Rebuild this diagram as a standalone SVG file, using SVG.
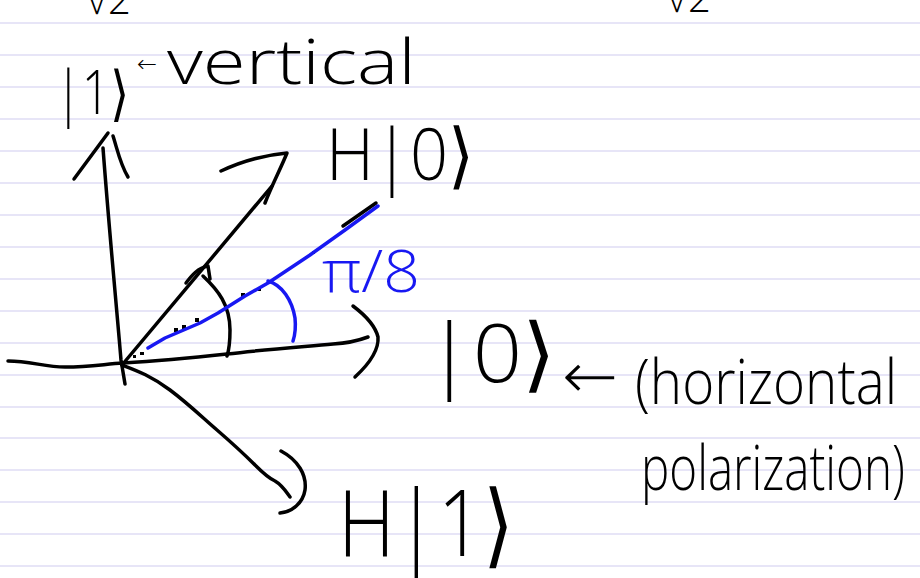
<svg xmlns="http://www.w3.org/2000/svg" width="920" height="578" viewBox="0 0 920 578">
<style>
.rule{stroke:#e7e5f7;stroke-width:2}
.ink{fill:none;stroke:#000;stroke-width:3.5;stroke-linecap:round;stroke-linejoin:round}
.blue{fill:none;stroke:#1818f2;stroke-width:3.5;stroke-linecap:round;stroke-linejoin:round}
.t{font-family:"Open Sans","DejaVu Sans",sans-serif;font-weight:300;fill:#000}
.tb{font-family:"Open Sans","DejaVu Sans",sans-serif;font-weight:300;fill:#1818f2}
</style>
<rect width="920" height="578" fill="#fff"/>
<g id="paper">
<line class="rule" x1="0" y1="23" x2="920" y2="23"/>
<line class="rule" x1="0" y1="55" x2="920" y2="55"/>
<line class="rule" x1="0" y1="87" x2="920" y2="87"/>
<line class="rule" x1="0" y1="119" x2="920" y2="119"/>
<line class="rule" x1="0" y1="151" x2="920" y2="151"/>
<line class="rule" x1="0" y1="183" x2="920" y2="183"/>
<line class="rule" x1="0" y1="215" x2="920" y2="215"/>
<line class="rule" x1="0" y1="247" x2="920" y2="247"/>
<line class="rule" x1="0" y1="279" x2="920" y2="279"/>
<line class="rule" x1="0" y1="311" x2="920" y2="311"/>
<line class="rule" x1="0" y1="343" x2="920" y2="343"/>
<line class="rule" x1="0" y1="375" x2="920" y2="375"/>
<line class="rule" x1="0" y1="407" x2="920" y2="407"/>
<line class="rule" x1="0" y1="438" x2="920" y2="438"/>
<line class="rule" x1="0" y1="470" x2="920" y2="470"/>
<line class="rule" x1="0" y1="502" x2="920" y2="502"/>
<line class="rule" x1="0" y1="534" x2="920" y2="534"/>
<line class="rule" x1="0" y1="566" x2="920" y2="566"/>
</g>
<g id="top-fragments">
<text class="t" x="86" y="14" font-size="40">√2</text>
<text class="t" x="666" y="12" font-size="40">√2</text>
</g>
<g id="connectors">
<path class="ink" d="M125,384 L123,372 L121,360 C116,300 110,240 103,148"/>
<path class="ink" d="M74,179 L108,133"/>
<path class="ink" d="M113,136 C117,148 120,164 128,177"/>
<path class="ink" d="M8,361 C30,361 45,367 65,367 C90,367 105,364 123,363 C160,361 200,357 227,354 C260,350 300,347 333,344 C350,343 360,340 368,337"/>
<path class="ink" d="M353,306 C365,315 375,325 378,337 C379,350 368,365 355,377"/>
<path class="ink" d="M122,365 L272,186"/>
<path class="ink" d="M221,171 C240,162 265,155 287,153 C280,170 272,185 265,203"/>
<path class="ink" d="M122,365 C135,370 150,375 170,390 C190,405 205,420 217,430 C232,443 245,455 255,465 C262,472 268,478 275,481 C282,485 285,490 290,497"/>
<path class="ink" d="M281,451 C298,460 307,475 305,490 C303,503 292,512 280,513"/>
<path class="ink" d="M186,283 C192,275 198,268 208,266 L210,279"/>
<path class="ink" d="M203,276 C218,290 230,305 230,330 C230,340 229,350 227,356"/>
<path class="ink" d="M343,226 L376,203"/>
<g fill="#000">
<rect x="174" y="328" width="4" height="4"/>
<rect x="182" y="325" width="4" height="4"/>
<rect x="195" y="318" width="4" height="4"/>
<rect x="241" y="293" width="4" height="4"/>
<rect x="258" y="288" width="3" height="3"/>
<rect x="312" y="251" width="3" height="3"/>
<rect x="140" y="352" width="4" height="3"/>
<rect x="133" y="355" width="3" height="3"/>
</g>
<path class="blue" d="M148,348 L165,338 L200,323 L218,313 L245,296 L268,283 L310,255 L345,230 L378,206"/>
<path class="blue" d="M268,281 C282,285 292,300 295,318 C296,328 295,335 293,341"/>
</g>
<g id="label-ket1">
<text class="t" x="55" y="114" font-size="60" textLength="74" lengthAdjust="spacingAndGlyphs">|1⟩</text>
<text class="t" x="137" y="72" font-size="24">←</text>
<text class="t" x="167" y="84" font-size="62" textLength="249" lengthAdjust="spacingAndGlyphs">vertical</text>
</g>
<g id="label-H0">
<text class="t" x="326" y="180" font-size="72" textLength="148" lengthAdjust="spacingAndGlyphs">H|0⟩</text>
</g>
<g id="label-pi8">
<text class="tb" x="322" y="292" font-size="58" textLength="98" lengthAdjust="spacingAndGlyphs">π/8</text>
</g>
<g id="label-ket0">
<text class="t" x="426" y="382" font-size="82" textLength="130" lengthAdjust="spacingAndGlyphs">|0⟩</text>
<text class="t" x="562" y="398" font-size="64" textLength="56" lengthAdjust="spacingAndGlyphs">←</text>
<text class="t" x="635" y="404" font-size="62" textLength="262" lengthAdjust="spacingAndGlyphs">(horizontal</text>
<text class="t" x="641" y="490" font-size="62" textLength="264" lengthAdjust="spacingAndGlyphs">polarization)</text>
</g>
<g id="label-H1">
<text class="t" x="338" y="556" font-size="92" textLength="176" lengthAdjust="spacingAndGlyphs">H|1⟩</text>
</g>
</svg>
